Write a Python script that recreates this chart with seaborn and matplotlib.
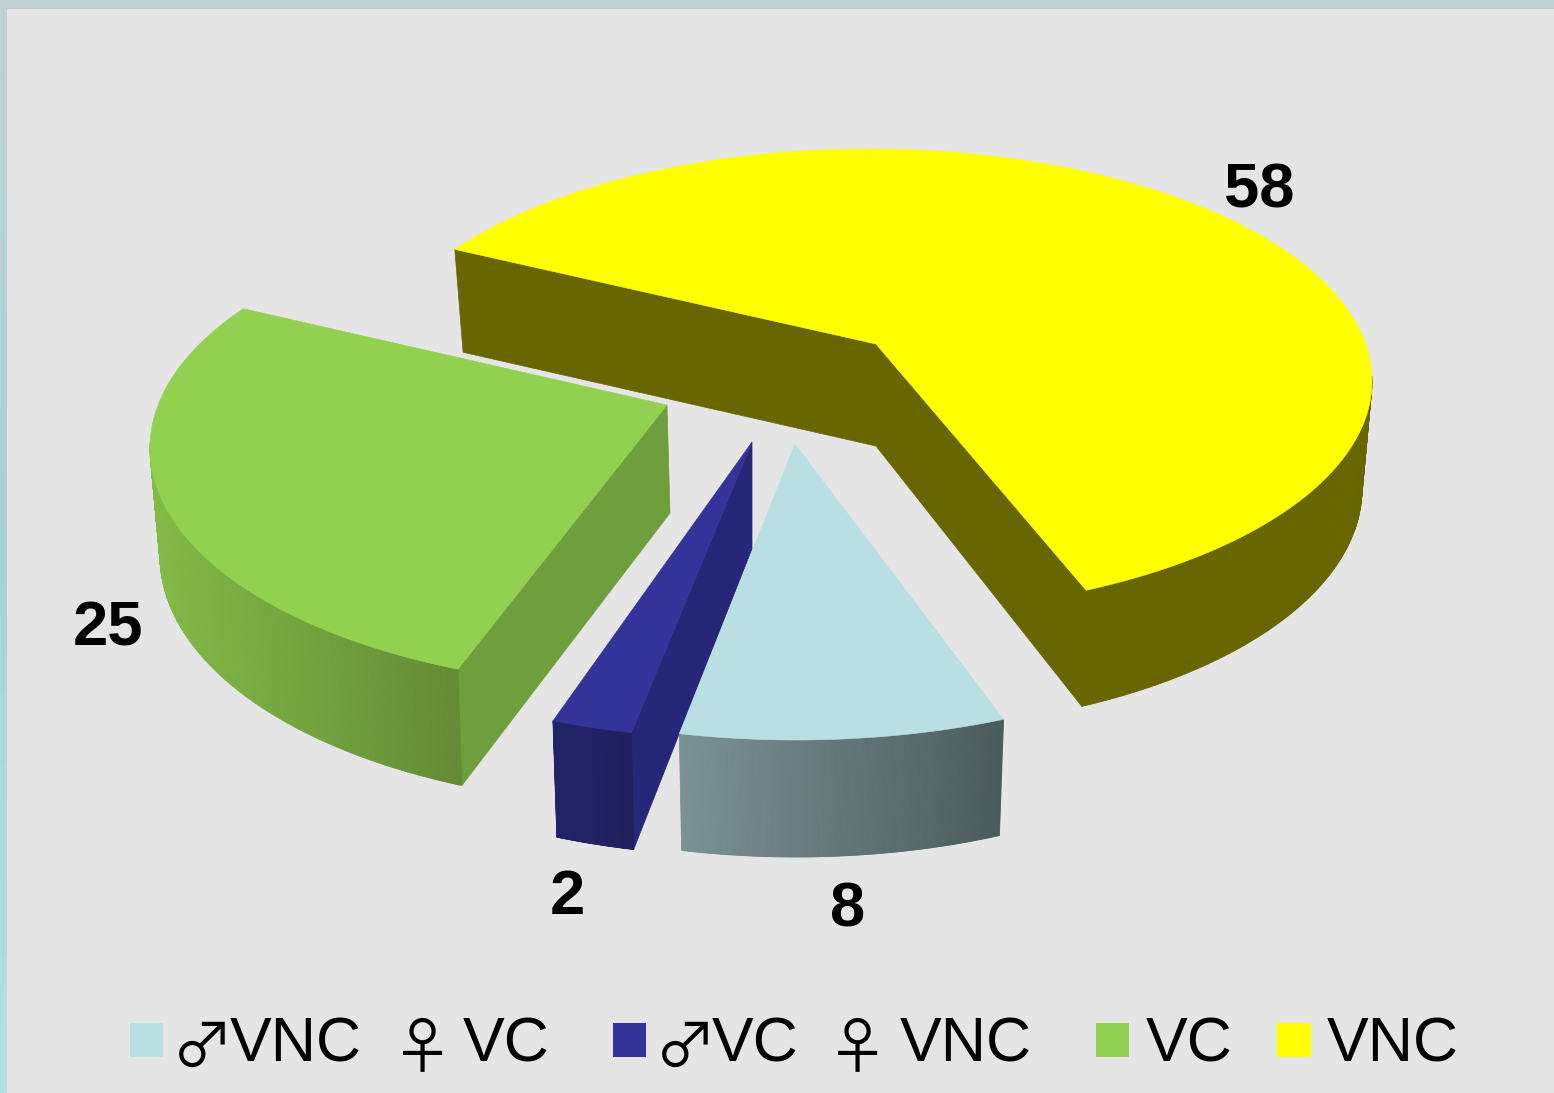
import numpy as np
import matplotlib
matplotlib.use('Agg')
import matplotlib.pyplot as plt
import matplotlib.colors as mcolors
import seaborn as sns

# datos del grafico (orden de la leyenda, sentido horario desde VNC masculino)
categorias = ['mVNC_fVC', 'mVC_fVNC', 'VC', 'VNC']
valores = [8, 2, 25, 58]
etiquetas = ['8', '2', '25', '58']
colores_tapa = ['#b9dfe2', '#343399', '#92d050', '#ffff00']

leyenda_textos = ['♂', 'VNC', '♀', 'VC', '♂', 'VC', '♀', 'VNC', 'VC', 'VNC']

# forma de cada porcion: centro de elipse, vertice, giro, alto y color de caras
centros = [(796, 508), (748, 507), (653, 448), (869, 381)]
vertices = [(-1, 64), (4, 65), (14, 43), (7, 37)]
giros = [0, 0, 0, 1]
altos = [232, 232, 240, 232]
caras_izq = ['#7a9294', '#232368', '#82ba47', '#676600']
caras_der = ['#4b5b5c', '#20205f', '#648b35', '#676600']
caras_planas = ['#4b5b5c', '#27277a', '#6f9e3d', '#676600']

A = 503
PROF = 108
EXTRA_B = 9
ESCALA_X = 0.98
E = 0.2
INICIO = -70

sns.set_theme(style='white')
plt.rcParams['font.family'] = ['Liberation Sans', 'DejaVu Sans']

fig = plt.figure(figsize=(15.54, 10.93), dpi=100, facecolor='#e5e5e5')
ax = fig.add_axes([0, 0, 1, 1])
ax.set_facecolor('#e5e5e5')

# marco: franja superior y franja izquierda con degradado
franja = mcolors.LinearSegmentedColormap.from_list('franja', ['#c0d0d2', '#a9d0d5', '#b6e0e4'])
ax.imshow(np.linspace(0, 1, 256).reshape(-1, 1), cmap=franja, extent=(0, 7, 1093, 0), aspect='auto')
ax.fill([0, 1554, 1554, 0], [0, 0, 9, 9], color='#c0d0d2', lw=0)


def proyectar(theta):
    # perspectiva: el centro real queda desplazado hacia el fondo
    s, c = np.sin(theta), np.cos(theta)
    d = 1 + E * s
    return c * np.sqrt(1 - E ** 2) / d, (s + E) / d


def tapa(cx, cy, b, theta):
    x, y = proyectar(theta)
    return cx + A * x, cy - b * y


def base(cx, cy, b, theta):
    x, y = proyectar(theta)
    return cx + ESCALA_X * A * x, cy + PROF - (b + EXTRA_B) * y


fin = INICIO - np.cumsum(valores) / np.sum(valores) * 360
ini = np.r_[INICIO, fin[:-1]]

for i in [3, 2, 1, 0]:
    cx, cy = centros[i]
    b = altos[i]
    vx, vy = cx + vertices[i][0], cy - vertices[i][1]
    th = np.radians(np.linspace(ini[i] + giros[i], fin[i] + giros[i], 300))
    xt, yt = tapa(cx, cy, b, th)
    xb, yb = base(cx, cy, b, th)
    color = caras_planas[i]

    # caras internas (desde el vertice hacia los bordes)
    if i == 3:
        ax.fill([xt[0], xb[0], vx, vx], [yt[0], yb[0], vy + 102, vy], color=color, lw=0.5)
        ax.fill([vx, vx, xb[-1], xt[-1]], [vy, vy + 102, yb[-1], yt[-1]], color=color, lw=0.5)
    if i == 2:
        # la cara visible va del vertice al extremo derecho del arco
        ax.fill([vx, vx + 3, xb[0], xt[0]], [vy, vy + 108, yb[0], yt[0]], color=color, lw=0.5)
    if i == 1:
        ax.fill([vx, vx, xb[0], xt[0]], [vy, vy + 107, yb[0], yt[0]], color=color, lw=0.5)

    # cara exterior con degradado
    _, yn = proyectar(th)
    frente = np.where(yn <= 0.02)[0]
    cmap = mcolors.LinearSegmentedColormap.from_list('g', [caras_izq[i], caras_der[i]])
    x0, x1 = xt[frente].min(), xt[frente].max()
    for j in range(frente[0], frente[-1]):
        if frente[j - frente[0] + 1] != j + 1:
            continue
        c = cmap((xt[j] - x0) / (x1 - x0))
        ax.fill([xt[j], xt[j + 1], xb[j + 1], xb[j]], [yt[j], yt[j + 1], yb[j + 1], yb[j]],
                color=c, lw=0.6)

    ax.fill(np.r_[vx, xt], np.r_[vy, yt], color=colores_tapa[i], lw=0.4)

# etiquetas de valores
pos_etiquetas = [(848, 910), (567, 897), (108, 629), (1259, 191)]
for txt, (x, y) in zip(etiquetas, pos_etiquetas):
    ax.text(x, y, txt, fontsize=45.5, fontweight='bold', color='black', ha='center', va='center')

# leyenda
sns.scatterplot(x=[146.5, 629.5, 1112.5, 1294], y=[1040, 1040, 1040, 1040], hue=categorias,
                palette=colores_tapa, marker='s', s=565, linewidth=0, legend=False, ax=ax)
pos_leyenda = [172, 230, 392, 463, 655, 712, 827, 900, 1146, 1327]
for txt, x in zip(leyenda_textos, pos_leyenda):
    if txt in ('♂', '♀'):
        ax.text(x, 1067, txt, fontsize=44, color='black', ha='left', va='baseline',
                family=['Noto Sans CJK JP', 'DejaVu Sans'])
    else:
        ax.text(x, 1062, txt, fontsize=45, color='black', ha='left', va='baseline',
                family=['Liberation Sans'])

ax.set_xlim(0, 1554)
ax.set_ylim(1093, 0)
ax.axis('off')
fig.savefig('out.png', dpi=100, facecolor=fig.get_facecolor())
